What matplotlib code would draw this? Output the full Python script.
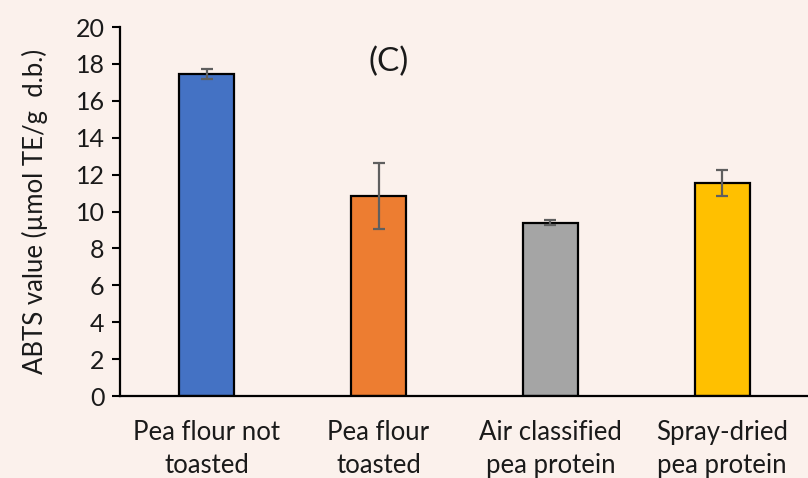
# ABTS values for the pea samples

import matplotlib.pyplot as plt

plt.rcParams['font.family'] = ['Lato', 'DejaVu Sans']

samples = ['Pea flour not\ntoasted', 'Pea flour\ntoasted', 'Air classified\npea protein', 'Spray-dried\npea protein']
abts = [17.43, 10.84, 9.40, 11.54]
abts_err = [0.27, 1.80, 0.13, 0.70]
bar_colors = ['#4472C4', '#ED7D31', '#A5A5A5', '#FFC000']

bg = '#FBF1EC'
fig = plt.figure(figsize=(8.08, 4.78), dpi=100, facecolor=bg)
ax = fig.add_axes([0.1485, 0.1715, 0.8515, 0.772], facecolor=bg)

ax.bar(range(len(samples)), abts, width=0.32, color=bar_colors, edgecolor='black', linewidth=1.6,
       yerr=abts_err, error_kw=dict(ecolor='#5f5f5f', elinewidth=1.6, capsize=4.6, capthick=1.6))

ax.set_xlim(-0.505, 3.5)
ax.set_ylim(0, 20)
ax.set_yticks(range(0, 21, 2))
ax.set_xticks(range(len(samples)))
ax.set_xticklabels(samples, fontsize=18.5, linespacing=1.4, color='#1a1a1a')
ax.tick_params(axis='x', length=0, pad=17)
ax.tick_params(axis='y', labelsize=18, length=6, width=1.5, direction='out', pad=5, labelcolor='#1a1a1a')
ax.set_ylabel('ABTS value (µmol TE/g  d.b.)', fontsize=18.5, labelpad=20, color='#1a1a1a')

for s in ['top', 'right']:
    ax.spines[s].set_visible(False)
for s in ['left', 'bottom']:
    ax.spines[s].set_linewidth(1.6)

ax.text(1.06, 18.1, '(C)', fontsize=24, ha='center', va='center', color='#1a1a1a')

plt.savefig('out.png', dpi=100, facecolor=bg)
